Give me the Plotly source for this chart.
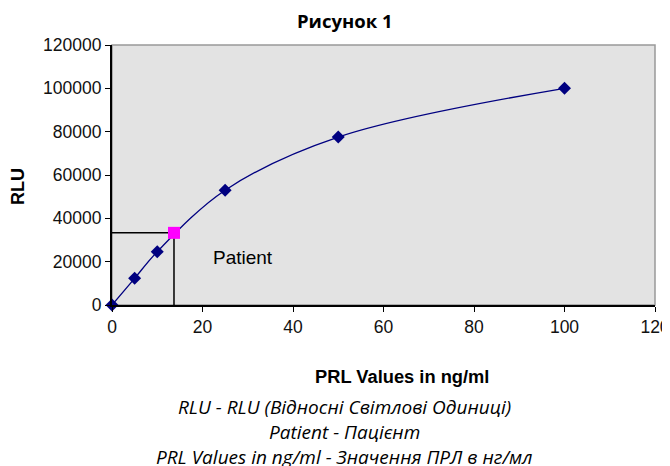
import plotly.graph_objects as go

# Data
prl_values = [0, 5, 10, 25, 50, 100]
rlu_values = [0, 12300, 24600, 53000, 77500, 100000]
patient_prl = 13.7
patient_rlu = 33300
x_ticks = [0, 20, 40, 60, 80, 100, 120]
y_ticks = [0, 20000, 40000, 60000, 80000, 100000, 120000]

title_text = "Рисунок 1"
x_title = "PRL Values in ng/ml"
y_title = "RLU"
patient_label = "Patient"
notes = [
    "RLU - RLU (Відносні Світлові Одиниці)",
    "Patient - Пацієнт",
    "PRL Values in ng/ml - Значення ПРЛ в нг/мл",
]

OFF = 8  # page body margin
WIN_W, WIN_H = 670, 466
PL, PR, PT, PB = 112, 655, 45, 305  # plot area in window pixels
W, H = WIN_W - OFF, WIN_H - OFF
pw, ph = PR - PL, PB - PT

def px(xp):
    return (xp - PL) / pw

def py(yp):
    return (PB - yp) / ph

fig = go.Figure()

fig.add_trace(go.Scatter(
    x=[0, patient_prl, patient_prl], y=[patient_rlu, patient_rlu, 0],
    mode="lines", line=dict(color="black", width=1.5),
    hoverinfo="skip", showlegend=False, cliponaxis=False,
))
fig.add_trace(go.Scatter(
    x=prl_values, y=rlu_values, mode="lines+markers",
    line=dict(color="#000080", width=1.3, shape="spline", smoothing=1.0),
    marker=dict(symbol="diamond", size=10, color="#000080"),
    showlegend=False, cliponaxis=False,
))
fig.add_trace(go.Scatter(
    x=[patient_prl], y=[patient_rlu], mode="markers",
    marker=dict(symbol="square", size=12, color="#FF00FF"),
    showlegend=False, cliponaxis=False,
))

axis_font = dict(family="Liberation Sans, Arial", size=17.5, color="#111")
fig.update_xaxes(
    range=[0, 120], tickvals=x_ticks, ticktext=[str(v) for v in x_ticks],
    showgrid=False, zeroline=False, showline=True, linecolor="black", linewidth=2,
    ticks="outside", ticklen=5, tickcolor="black", tickfont=axis_font,
    automargin=False,
)
fig.update_yaxes(
    range=[0, 120000], tickvals=y_ticks, ticktext=[str(v) for v in y_ticks],
    showgrid=False, zeroline=False, showline=True, linecolor="black", linewidth=2,
    ticks="outside", ticklen=5, tickcolor="black", tickfont=axis_font,
    automargin=False,
)

fig.add_shape(type="rect", xref="paper", yref="paper", x0=0, y0=0, x1=1, y1=1,
              line=dict(color="#999999", width=1.5), layer="below")

annos = [
    dict(text="<b>" + title_text + "</b>", x=px(345), y=py(20.5),
         font=dict(family="Open Sans", size=18.5, color="black")),
    dict(text="<b>" + y_title + "</b>", x=px(18), y=py(187), textangle=-90,
         font=dict(family="Liberation Sans, Arial", size=18, color="black")),
    dict(text="<b>" + x_title + "</b>", x=px(402), y=py(376),
         font=dict(family="Liberation Sans, Arial", size=18.3, color="black")),
]
for txt, yy in zip(notes, [407, 432, 457]):
    annos.append(dict(text="<i>" + txt + "</i>", x=px(344), y=py(yy),
                      font=dict(family="Open Sans", size=19, color="black")))
for a in annos:
    a.update(xref="paper", yref="paper", showarrow=False, xanchor="center", yanchor="middle")
    fig.add_annotation(**a)

fig.add_annotation(text=patient_label, x=29, y=22150, xref="x", yref="y",
                   showarrow=False, font=dict(family="Liberation Sans, Arial", size=19, color="black"))

fig.update_layout(
    width=W, height=H,
    margin=dict(l=PL - OFF, r=WIN_W - PR, t=PT - OFF, b=WIN_H - PB),
    plot_bgcolor="#E3E3E3", paper_bgcolor="white",
)

fig.write_html(
    "out.html",
    post_script="document.documentElement.style.overflow='hidden';document.body.style.overflow='hidden';",
)
